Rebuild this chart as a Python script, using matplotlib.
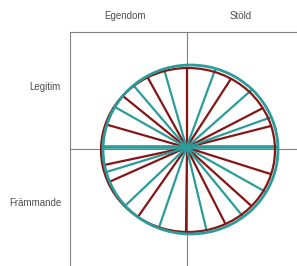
import numpy as np
import matplotlib
matplotlib.use("Agg")
import matplotlib.pyplot as plt
from matplotlib.patches import Ellipse

# ---- data ----
col_labels = ["Egendom", "Stöld"]
row_labels = ["Legitim", "Främmande"]
red_angles = [90, 119, 141, 164, 192, 204, 235, 270, 297, 318, 342.5, 14.3, 27.3, 57.1]
teal_angles = [106, 130.5, 150.5, 197, 223.5, 251, 283.6, 309.3, 330.7, 19.7, 41.5, 69.8]
teal_axis_angles = [0, 180]

RED = "#861515"
TEAL = "#2a9d9a"
GRID = "#808080"

fig = plt.figure(figsize=(2.97, 2.66), dpi=100)
ax = fig.add_axes([0, 0, 1, 1])
ax.set_xlim(0, 297)
ax.set_ylim(266, 0)
ax.axis("off")

# frame / quadrant lines
left, top, midx, midy = 70, 32, 186.5, 149
ax.plot([left, left], [top, 266], color=GRID, lw=0.8)
ax.plot([midx, midx], [top, 266], color=GRID, lw=0.8)
ax.plot([left, 297], [top, top], color=GRID, lw=0.8)
ax.plot([left, 297], [midy, midy], color=GRID, lw=0.8)

hub = np.array([186.5, 147.5])
red_ell = dict(c=(188, 150), a=87, b=82)
teal_ell = dict(c=(190.5, 149.5), a=87.5, b=84.5)


def endpoint(theta, ell):
    d = np.array([np.cos(np.radians(theta)), -np.sin(np.radians(theta))])
    c = np.array(ell["c"], dtype=float)
    p = hub - c
    A = (d[0] / ell["a"]) ** 2 + (d[1] / ell["b"]) ** 2
    B = 2 * (p[0] * d[0] / ell["a"] ** 2 + p[1] * d[1] / ell["b"] ** 2)
    C = (p[0] / ell["a"]) ** 2 + (p[1] / ell["b"]) ** 2 - 1
    t = (-B + np.sqrt(B * B - 4 * A * C)) / (2 * A)
    return hub + t * d


for th in red_angles:
    e = endpoint(th, red_ell)
    ax.plot([hub[0], e[0]], [hub[1], e[1]], color=RED, lw=1.6, solid_capstyle="butt", zorder=3)
for th in teal_angles:
    e = endpoint(th, teal_ell)
    ax.plot([hub[0], e[0]], [hub[1], e[1]], color=TEAL, lw=1.6, solid_capstyle="butt", zorder=3)
for th in teal_axis_angles:
    e = endpoint(th, teal_ell)
    ax.plot([hub[0], e[0]], [146.5, 146.5], color=TEAL, lw=2.6, solid_capstyle="butt", zorder=3)

ax.add_patch(Ellipse(red_ell["c"], 2 * red_ell["a"], 2 * red_ell["b"], fill=False,
                     edgecolor=RED, lw=1.6, zorder=4))
ax.add_patch(Ellipse(teal_ell["c"], 2 * teal_ell["a"], 2 * teal_ell["b"], fill=False,
                     edgecolor=TEAL, lw=2.0, zorder=5))

font = dict(family=["Liberation Sans", "DejaVu Sans"], fontsize=7, color="#505050")
for lab, x in zip(col_labels, [125, 241]):
    ax.text(x, 16, lab, ha="center", va="center", **font)
for lab, y in zip(row_labels, [87, 203]):
    ax.text(61, y, lab, ha="right", va="center", **font)

fig.savefig("out.png", dpi=100)
